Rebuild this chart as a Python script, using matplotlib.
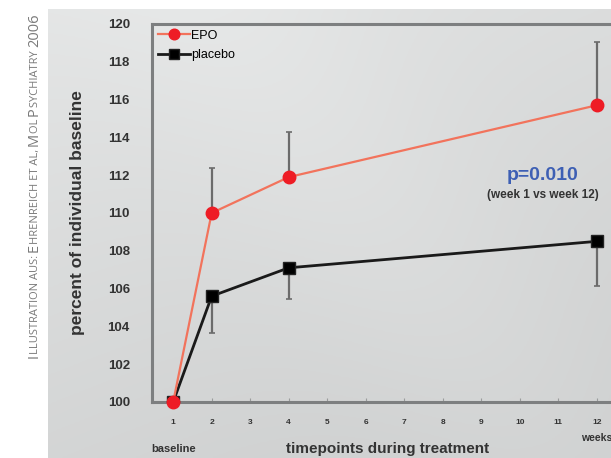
import numpy as np
import matplotlib
matplotlib.use("Agg")
import matplotlib.pyplot as plt

plt.rcParams["font.family"] = ["Liberation Sans", "DejaVu Sans"]

# ---- data -------------------------------------------------------------
weeks = [1, 2, 4, 12]
epo = [100.0, 110.0, 111.9, 115.7]
epo_err_up = [0.0, 2.4, 2.4, 3.35]
placebo = [100.0, 105.6, 107.1, 108.5]
placebo_err_down = [0.0, 1.95, 1.65, 2.35]
xticks = list(range(1, 13))
yticks = list(range(100, 121, 2))

caption = [("I", 10.5), ("LLUSTRATION AUS: ", 8.0), ("E", 10.5), ("HRENREICH ET AL, ", 8.0),
           ("M", 10.5), ("OL ", 8.0), ("P", 10.5), ("SYCHIATRY ", 8.0), ("2006", 10.5)]

W, H = 611, 458
fig = plt.figure(figsize=(W / 100, H / 100), dpi=100)

# ---- gray gradient panel -----------------------------------------------
bg = fig.add_axes([48 / W, 0, 1 - 48 / W, 1 - 9 / H])
bg.set_axis_off()
gx, gy = np.meshgrid(np.linspace(0, 1, 200), np.linspace(0, 1, 200))
shade = 0.89 - 0.06 * gy - 0.03 * gx + 0.02 * np.exp(-((gx - gy * 0.6 - 0.3) ** 2) / 0.08)
bg.imshow(np.dstack([shade, shade + 0.006, shade + 0.006]).clip(0, 1),
          aspect="auto", extent=(0, 1, 1, 0))

# ---- main axes (runs past the right edge like the cropped original) ------
ax = fig.add_axes([152 / W, 1 - 402 / H, 464 / W, 378 / H])
ax.patch.set_alpha(0)
ax.set_xlim(0.45, 12.5)
ax.set_ylim(100, 120)
for side in ("left", "bottom", "top"):
    ax.spines[side].set_color("#7d7f80")
    ax.spines[side].set_linewidth(2.2)
ax.spines["right"].set_visible(False)

ax.set_xticks(xticks)
ax.set_xticklabels([str(t) for t in xticks], fontsize=6, color="#333333", fontweight="bold")
ax.tick_params(axis="x", direction="in", length=3, width=0.8, color="#9a9c9c", pad=12)
ax.set_yticks(yticks)
ax.set_yticklabels([str(t) for t in yticks], fontsize=9.5, color="#333333", fontweight="bold")
ax.tick_params(axis="y", length=0, pad=16)

ax.errorbar(weeks[1:], placebo[1:], yerr=[placebo_err_down[1:], [0] * 3], fmt="none",
            ecolor="#6b6b6b", elinewidth=1.6, capsize=2, capthick=1.2, zorder=2)
ax.errorbar(weeks[1:], epo[1:], yerr=[[0] * 3, epo_err_up[1:]], fmt="none",
            ecolor="#6b6b6b", elinewidth=1.6, capsize=2, capthick=1.2, zorder=2)
ax.plot(weeks, placebo, color="#1a1a1a", linewidth=2.0, marker="s", markersize=9,
        markerfacecolor="black", markeredgecolor="#222222", label="placebo", zorder=3)
ax.plot(weeks, epo, color="#f2735c", linewidth=1.6, marker="o", markersize=9,
        markerfacecolor="#ee1c25", markeredgecolor="#ee1c25", label="EPO", zorder=4,
        clip_on=False)

h, l = ax.get_legend_handles_labels()
ax.legend(h[::-1], l[::-1], loc="upper left", frameon=False, fontsize=9,
          handlelength=2.6, handletextpad=0.1, labelspacing=0.6, markerscale=0.85,
          borderaxespad=0.1, borderpad=0.35)

ax.text(10.6, 112.0, "p=0.010", color="#3d5fb4", fontsize=14, fontweight="bold",
        ha="center", va="center")
ax.text(10.6, 110.95, "(week 1 vs week 12)", color="#333333", fontsize=8.5,
        fontweight="bold", ha="center", va="center")

ax.set_ylabel("percent of individual baseline", fontsize=12.5, fontweight="bold",
              color="#333333", labelpad=16)
ax.text(1, -0.125, "baseline", transform=ax.get_xaxis_transform(), ha="center",
        va="center", fontsize=8, color="#333333", fontweight="bold")
ax.text(12, -0.095, "weeks", transform=ax.get_xaxis_transform(), ha="center",
        va="center", fontsize=7.5, color="#333333", fontweight="bold")
ax.text(6.58, -0.125, "timepoints during treatment", transform=ax.get_xaxis_transform(),
        ha="center", va="center", fontsize=11, color="#333333", fontweight="bold")

# ---- rotated small-caps credit line on the white margin -------------------
fig.canvas.draw()
renderer = fig.canvas.get_renderer()
x0, y0 = 38 / W, 1 - 358 / H
for txt, size in caption:
    probe = fig.text(0, 0, txt.replace(" ", "\u00a0"), fontsize=size, family="Open Sans")
    width = probe.get_window_extent(renderer).width
    probe.remove()
    fig.text(x0, y0, txt, rotation=90, rotation_mode="anchor", ha="left",
             va="baseline", fontsize=size, color="#7a7a7a", family="Open Sans")
    y0 += width / H

fig.savefig("out.png", dpi=100)
